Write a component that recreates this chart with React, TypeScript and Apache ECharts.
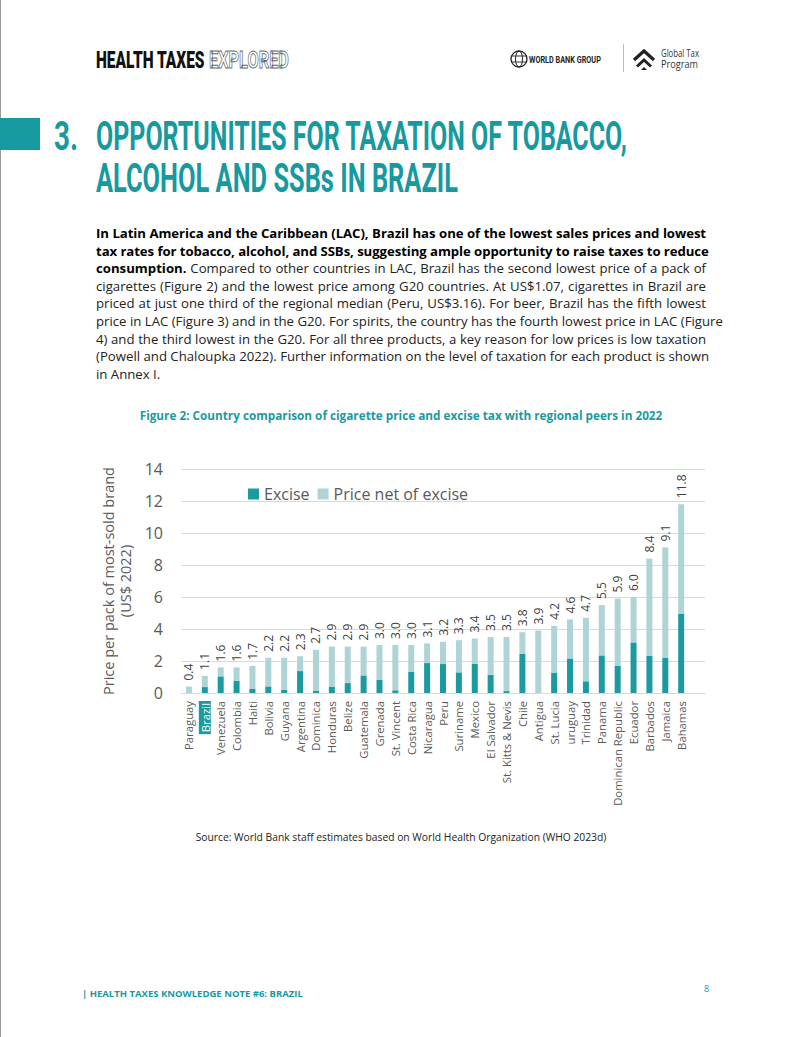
import React, { useEffect, useRef } from "react";
import * as echarts from "echarts";

// ---- data ----
const categories = [
  "Paraguay", "Brazil", "Venezuela", "Colombia", "Haiti", "Bolivia", "Guyana", "Argentina",
  "Dominica", "Honduras", "Belize", "Guatemala", "Grenada", "St. Vincent", "Costa Rica",
  "Nicaragua", "Peru", "Suriname", "Mexico", "El Salvador", "St. Kitts & Nevis", "Chile",
  "Antigua", "St. Lucia", "uruguay", "Trinidad", "Panama", "Dominican Republic", "Ecuador",
  "Barbados", "Jamaica", "Bahamas", "",
];
const totalPrice = [
  0.4, 1.07, 1.6, 1.6, 1.7, 2.2, 2.2, 2.3, 2.7, 2.9, 2.9, 2.9, 3.0, 3.0, 3.0, 3.1, 3.2, 3.3,
  3.4, 3.5, 3.5, 3.8, 3.9, 4.2, 4.6, 4.7, 5.5, 5.9, 6.0, 8.4, 9.1, 11.8, null,
];
const exciseTax = [
  0, 0.37, 1.04, 0.77, 0.27, 0.41, 0.2, 1.37, 0.15, 0.4, 0.62, 1.1, 0.83, 0.17, 1.33, 1.87,
  1.81, 1.29, 1.83, 1.14, 0.12, 2.44, 0, 1.25, 2.16, 0.73, 2.35, 1.69, 3.16, 2.33, 2.19, 4.96, null,
];
const yTicks = { min: 0, max: 14, interval: 2 };
const seriesNames = ["Excise", "Price net of excise"];

const TEAL = "#16999F";
const EXCISE_COLOR = "#1B9AA0";
const NET_COLOR = "#AFD4D6";

const paragraphLines: { b?: string; r?: string }[] = [
  { b: "In Latin America and the Caribbean (LAC), Brazil has one of the lowest sales prices and lowest" },
  { b: "tax rates for tobacco, alcohol, and SSBs, suggesting ample opportunity to raise taxes to reduce" },
  { b: "consumption.", r: " Compared to other countries in LAC, Brazil has the second lowest price of a pack of" },
  { r: "cigarettes (Figure 2) and the lowest price among G20 countries. At US$1.07, cigarettes in Brazil are" },
  { r: "priced at just one third of the regional median (Peru, US$3.16). For beer, Brazil has the fifth lowest" },
  { r: "price in LAC (Figure 3) and in the G20. For spirits, the country has the fourth lowest price in LAC (Figure" },
  { r: "4) and the third lowest in the G20. For all three products, a key reason for low prices is low taxation" },
  { r: "(Powell and Chaloupka 2022). Further information on the level of taxation for each product is shown" },
  { r: "in Annex I." },
];

let measureCtx: CanvasRenderingContext2D | null = null;
function measure(text: string, font: string): number {
  if (!measureCtx) measureCtx = document.createElement("canvas").getContext("2d");
  if (!measureCtx) return text.length * 10;
  measureCtx.font = font;
  return measureCtx.measureText(text).width || 1;
}

function FitText(props: {
  x: number; y: number; width: number; text: string; size: number; weight?: number;
  family: string; sy?: number; fill?: string; stroke?: string; strokeWidth?: number;
}) {
  const { x, y, width, text, size, weight = 400, family, sy = 1, fill = "#000", stroke, strokeWidth } = props;
  const natural = measure(text, `${weight} ${size}px ${family}`);
  const sx = width / natural;
  return (
    <text
      transform={`translate(${x},${y}) scale(${sx},${sy})`}
      x={0}
      y={0}
      fontFamily={family}
      fontWeight={weight}
      fontSize={size}
      fill={fill}
      stroke={stroke}
      strokeWidth={strokeWidth}
    >
      {text}
    </text>
  );
}

// several lines in one <text>, each line fitted to a width
function FitLines(props: {
  lines: { x: number; y: number; width: number; text: string }[];
  size: number; weight?: number; family: string; sy?: number; fill?: string;
}) {
  const { lines, size, weight = 400, family, sy = 1, fill = "#000" } = props;
  const font = `${weight} ${size}px ${family}`;
  const sx = lines[0].width / measure(lines[0].text, font);
  return (
    <text
      transform={`scale(${sx},${sy})`}
      fontFamily={family}
      fontWeight={weight}
      fontSize={size}
      fill={fill}
    >
      {lines.map((l, i) => (
        <tspan
          key={i}
          x={l.x / sx}
          y={l.y / sy}
          textLength={l.width / sx}
          lengthAdjust="spacingAndGlyphs"
        >
          {l.text}
        </tspan>
      ))}
    </text>
  );
}

export default function App() {
  const ref = useRef<HTMLDivElement>(null);

  useEffect(() => {
    if (!ref.current) return;
    const chart = echarts.init(ref.current, undefined, { renderer: "svg" });
    const netOfExcise = totalPrice.map((t, i) =>
      t == null || exciseTax[i] == null ? null : +(t - (exciseTax[i] as number)).toFixed(3)
    );
    const font = "Open Sans";
    chart.setOption({
      animation: false,
      grid: { left: 181, right: 97, top: 469, bottom: 344, containLabel: false },
      legend: {
        left: 243,
        top: 481,
        icon: "rect",
        itemWidth: 11,
        itemHeight: 11,
        itemGap: 8,
        textStyle: { fontFamily: font, fontSize: 16, color: "#595959" },
        data: seriesNames,
      },
      xAxis: {
        type: "category",
        data: categories,
        axisLine: { lineStyle: { color: "#D9D9D9" } },
        axisTick: { show: false },
        axisLabel: {
          interval: 0,
          rotate: 90,
          margin: 8,
          fontFamily: font,
          fontSize: 11.3,
          color: "#595959",
          formatter: (v: string) => (v === "Brazil" ? "{hl|Brazil}" : v),
          rich: {
            hl: {
              backgroundColor: EXCISE_COLOR,
              color: "#fff",
              padding: [1, 2, 0, 2],
              fontFamily: font,
              fontSize: 11.3,
            },
          },
        },
      },
      yAxis: {
        type: "value",
        min: yTicks.min,
        max: yTicks.max,
        interval: yTicks.interval,
        axisLabel: { fontFamily: font, fontSize: 16, color: "#595959", margin: 18 },
        splitLine: { lineStyle: { color: "#D9D9D9" } },
        axisLine: { show: false },
        name: "Price per pack of most-sold brand\n(US$ 2022)",
        nameLocation: "middle",
        nameGap: 35,
        nameTextStyle: { fontFamily: font, fontSize: 14.5, color: "#595959", lineHeight: 17 },
      },
      series: [
        {
          name: seriesNames[0],
          type: "bar",
          stack: "price",
          data: exciseTax,
          barWidth: 6,
          itemStyle: { color: EXCISE_COLOR },
        },
        {
          name: seriesNames[1],
          type: "bar",
          stack: "price",
          data: netOfExcise,
          barWidth: 6,
          itemStyle: { color: NET_COLOR },
          label: {
            show: true,
            position: "top",
            rotate: 90,
            align: "left",
            verticalAlign: "middle",
            distance: 6,
            fontFamily: font,
            fontSize: 12,
            color: "#404040",
            formatter: (p: any) => {
              const t = totalPrice[p.dataIndex];
              return t == null ? "" : t.toFixed(1);
            },
          },
        },
      ],
    });
    return () => chart.dispose();
  }, []);

  const openSans = "'Open Sans', sans-serif";
  return (
    <div style={{ position: "absolute", left: 0, top: 0, width: 802, height: 1037, background: "#fff", overflow: "hidden" }}>
      <div ref={ref} style={{ position: "absolute", left: 0, top: 0, width: 802, height: 1037 }} />
      <svg width={802} height={1037} style={{ position: "absolute", left: 0, top: 0, pointerEvents: "none" }}>
        <line x1={0.5} y1={0} x2={0.5} y2={1037} stroke="#9a9a9a" strokeWidth={1} />
        {/* header */}
        <FitText x={96} y={68} width={109} text="HEALTH TAXES" size={24} weight={900} family="Roboto" fill="#111" />
        <FitText x={209} y={68} width={80} text="EXPLORED" size={24} weight={700} family="Roboto" fill="#fff" stroke="#666" strokeWidth={0.9} />
        {/* World Bank logo */}
        <circle cx={519} cy={59} r={8} fill="none" stroke="#222" strokeWidth={1.3} />
        <ellipse cx={519} cy={59} rx={3.5} ry={8} fill="none" stroke="#222" strokeWidth={1} />
        <line x1={511} y1={56} x2={527} y2={56} stroke="#222" strokeWidth={0.9} />
        <line x1={511} y1={62} x2={527} y2={62} stroke="#222" strokeWidth={0.9} />
        <FitText x={529} y={62.5} width={72} text="WORLD BANK GROUP" size={8.5} weight={700} family="Roboto" fill="#222" />
        <line x1={623.5} y1={44} x2={623.5} y2={72} stroke="#bbb" strokeWidth={1} />
        {/* GTP logo */}
        <polyline points="634,60 644,51 654,60" fill="none" stroke="#222" strokeWidth={3.2} />
        <polyline points="637,66.5 644,60 651,66.5" fill="none" stroke="#222" strokeWidth={3} />
        <polygon points="641,70 644,67 647,70" fill="#222" />
        <FitLines
          lines={[
            { x: 661, y: 57, width: 38, text: "Global Tax" },
            { x: 661, y: 68, width: 37, text: "Program" },
          ]}
          size={10}
          family="Open Sans"
          fill="#333"
        />
        {/* title */}
        <rect x={0} y={118} width={40} height={32} fill={TEAL} />
        <FitText x={54} y={150} width={24} text="3." size={36} weight={700} sy={1.14} family="Roboto" fill={TEAL} />
        <FitLines
          lines={[
            { x: 96, y: 150, width: 531, text: "OPPORTUNITIES FOR TAXATION OF TOBACCO," },
            { x: 96, y: 192, width: 362, text: "ALCOHOL AND SSBs IN BRAZIL" },
          ]}
          size={36}
          weight={700}
          sy={1.14}
          family="Roboto"
          fill={TEAL}
        />
        {/* footer */}
        <FitText x={82} y={997} width={221} text="| HEALTH TAXES KNOWLEDGE NOTE #6: BRAZIL" size={9.5} weight={700} family="Open Sans" fill={TEAL} />
        <text x={704} y={992} fontFamily={openSans} fontSize={9} fill={TEAL}>8</text>
      </svg>
      {/* paragraph */}
      <div style={{ position: "absolute", left: 96, top: 225, width: 610, fontFamily: openSans, fontSize: 13.2, lineHeight: "17.6px", color: "#222" }}>
        {paragraphLines.map((l, i) => (
          <div
            key={i}
            style={{
              whiteSpace: "nowrap",
              textAlign: "justify",
              textAlignLast: i === paragraphLines.length - 1 ? "left" : "justify",
              height: 17.6,
              letterSpacing: l.b && !l.r ? "-0.08px" : "0px",
            }}
          >
            {l.b ? <b style={{ color: "#000" }}>{l.b}</b> : null}
            {l.r ? <span>{l.r}</span> : null}
          </div>
        ))}
      </div>
      {/* figure caption */}
      <div style={{ position: "absolute", left: 0, width: 802, top: 406, textAlign: "center", fontFamily: openSans, fontWeight: 700, fontSize: 11.75, color: EXCISE_COLOR, lineHeight: "18px" }}>
        Figure 2: Country comparison of cigarette price and excise tax with regional peers in 2022
      </div>
      {/* source */}
      <div style={{ position: "absolute", left: 0, width: 802, top: 829, textAlign: "center", fontFamily: openSans, fontSize: 10.3, color: "#222", lineHeight: "16px" }}>
        Source: World Bank staff estimates based on World Health Organization (WHO 2023d)
      </div>
    </div>
  );
}
